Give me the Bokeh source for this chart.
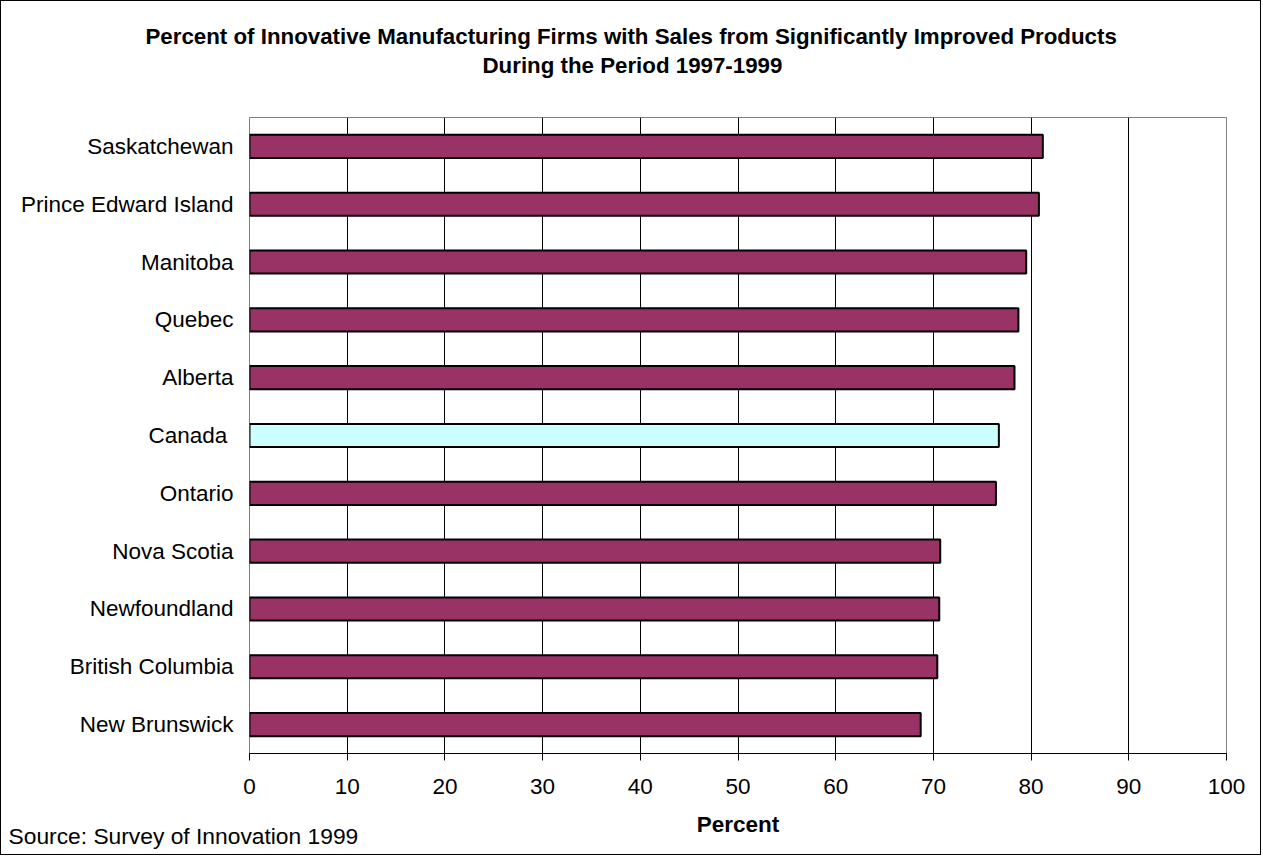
from bokeh.plotting import figure
from bokeh.models import (ColumnDataSource, FactorRange, Range1d,
                          Title, FixedTicker)
from bokeh.embed import file_html
from bokeh.resources import INLINE

# Provinces listed top to bottom, with the percent of innovative firms
provinces = ["Saskatchewan", "Prince Edward Island", "Manitoba", "Quebec",
             "Alberta", "Canada ", "Ontario", "Nova Scotia", "Newfoundland",
             "British Columbia", "New Brunswick"]
percent = [81.2, 80.8, 79.5, 78.7, 78.3, 76.7, 76.4, 70.7, 70.6, 70.4, 68.7]
x_ticks = [0, 10, 20, 30, 40, 50, 60, 70, 80, 90, 100]

PROV_COLOR = "#993366"
NATIONAL_COLOR = "#CCFFFF"
FONT = "Liberation Sans"
FS = "22.5px"
TITLE_FS = "22.3px"

colors = [NATIONAL_COLOR if name.strip() == "Canada" else PROV_COLOR
          for name in provinces]
source = ColumnDataSource(dict(name=provinces, pct=percent, color=colors))

W, H = 1261, 855
FL, FR, FT, FB = 248, 1225, 116, 752

p = figure(width=W, height=H, output_backend="svg", toolbar_location=None,
           y_range=FactorRange(factors=list(reversed(provinces))),
           x_range=Range1d(0, 100),
           min_border_left=FL, min_border_right=W - FR,
           min_border_top=FT, min_border_bottom=H - FB)
p.background_fill_color = "white"
p.border_fill_color = "white"
p.outline_line_color = "#808080"
p.outline_line_width = 1
p.styles = {"border": "1px solid black"}

p.hbar(y="name", right="pct", left=0, height=0.4, source=source,
       fill_color="color", line_color="black", line_width=2)

# x axis
p.xaxis.ticker = FixedTicker(ticks=x_ticks)
p.xaxis.axis_line_color = "black"
p.xaxis.major_tick_line_color = "black"
p.xaxis.major_tick_out = 7
p.xaxis.major_tick_in = 0
p.xaxis.minor_tick_line_color = None
p.xaxis.major_label_text_font = FONT
p.xaxis.major_label_text_font_size = FS
p.xaxis.major_label_text_color = "black"
p.xaxis.major_label_standoff = 18
p.xaxis.axis_label = "Percent"
p.xaxis.axis_label_text_font = FONT
p.xaxis.axis_label_text_font_size = FS
p.xaxis.axis_label_text_font_style = "bold"
p.xaxis.axis_label_text_color = "black"
p.xaxis.axis_label_standoff = 15

# y axis
p.yaxis.axis_line_color = None
p.yaxis.major_tick_line_color = None
p.yaxis.major_tick_out = 0
p.yaxis.major_tick_in = 0
p.yaxis.minor_tick_line_color = None
p.yaxis.major_label_text_font = FONT
p.yaxis.major_label_text_font_size = FS
p.yaxis.major_label_text_color = "black"
p.yaxis.major_label_standoff = 16

p.xgrid.grid_line_color = "black"
p.xgrid.grid_line_width = 1
p.ygrid.grid_line_color = None

# Title block: a blank spacer row next to the frame, then the two lines
title_style = dict(text_font=FONT, text_font_size=TITLE_FS,
                   text_font_style="bold", text_color="black", align="left")
p.title.text = "Percent of Innovative Manufacturing Firms with Sales from Significantly Improved Products"
p.title.offset = -104
p.title.standoff = 4
for k, v in title_style.items():
    setattr(p.title, k, v)
p.add_layout(Title(text=" ", standoff=13, **title_style), "above")
p.add_layout(Title(text="During the Period 1997-1999", offset=233, standoff=0,
                   **title_style), "above")

# Source note in the lower left corner, tucked up beside the axis label
p.add_layout(Title(text="Source:  Survey of Innovation 1999",
                   align="left", vertical_align="top", offset=-241,
                   standoff=-33, text_font=FONT, text_font_size="22.8px",
                   text_font_style="normal", text_color="black"), "below")

open("out.html", "w").write(file_html(p, INLINE))
